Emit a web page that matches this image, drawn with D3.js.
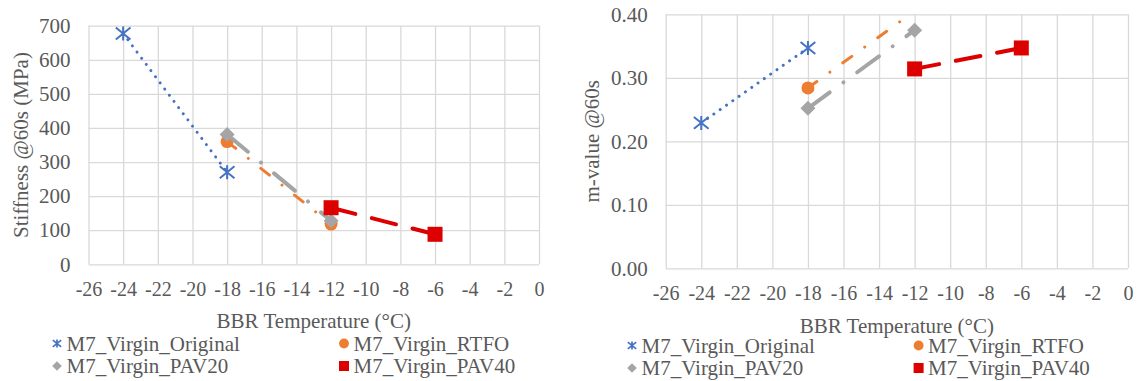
<!DOCTYPE html>
<html><head><meta charset="utf-8">
<script src="https://cdn.jsdelivr.net/npm/d3@7"></script>
<style>body{margin:0;background:#fff}</style>
</head><body>
<svg id="c" width="1140" height="381"></svg>
<script>
// ---- data ----
const seriesNames = ["M7_Virgin_Original", "M7_Virgin_RTFO", "M7_Virgin_PAV20", "M7_Virgin_PAV40"];
const tempOriginal = [-24, -18];
const tempRTFO = [-18, -12];
const tempPAV20 = [-18, -12];
const tempPAV40 = [-12, -6];
const stiffOriginal = [677, 270];
const stiffRTFO = [360, 118];
const stiffPAV20 = [381, 128];
const stiffPAV40 = [166, 88];
const mOriginal = [0.229, 0.347];
const mRTFO = [0.284, 0.405];
const mPAV20 = [0.252, 0.375];
const mPAV40 = [0.314, 0.347];
const xTickValues = [-26, -24, -22, -20, -18, -16, -14, -12, -10, -8, -6, -4, -2, 0];
const stiffTickValues = [0, 100, 200, 300, 400, 500, 600, 700];
const mTickValues = [0, 0.1, 0.2, 0.3, 0.4];
const xTitle = "BBR Temperature (\u00B0C)";
const stiffTitle = "Stiffness @60s (MPa)";
const mTitle = "m-value @60s";

const temps = [tempOriginal, tempRTFO, tempPAV20, tempPAV40];
const stiffVals = [stiffOriginal, stiffRTFO, stiffPAV20, stiffPAV40];
const mVals = [mOriginal, mRTFO, mPAV20, mPAV40];

// ---- styles ----
const FONT = "Liberation Serif";
const styles = [
  {color: "#4472C4", width: 3, dash: "0.01 7.7", marker: "star"},
  {color: "#ED7D31", width: 3, dash: "11 16 0.01 16", marker: "circle"},
  {color: "#A5A5A5", width: 4, dash: "27 17 0.01 17", marker: "diamond"},
  {color: "#DC0000", width: 4, dash: "25 17", marker: "square"}
];
const textColor = "#595959";
const gridColor = "#D9D9D9";

const svg = d3.select("#c");
svg.append("rect").attr("width", 1140).attr("height", 381).attr("fill", "#fff");

function marker(g, type, cx, cy, s, color) {
  if (type === "star") {
    const h = s, w = s * 1.05, dv = s * 0.85;
    g.append("path")
      .attr("d", `M${cx},${cy - h}V${cy + h}M${cx - w},${cy - dv}L${cx + w},${cy + dv}M${cx - w},${cy + dv}L${cx + w},${cy - dv}`)
      .attr("stroke", color).attr("stroke-width", s > 5 ? 2 : 1.7).attr("fill", "none");
  } else if (type === "circle") {
    g.append("circle").attr("cx", cx).attr("cy", cy).attr("r", s * 0.88).attr("fill", color);
  } else if (type === "diamond") {
    g.append("path").attr("d", `M${cx},${cy - s}L${cx + s},${cy}L${cx},${cy + s}L${cx - s},${cy}Z`).attr("fill", color);
  } else {
    g.append("rect").attr("x", cx - s).attr("y", cy - s).attr("width", 2 * s).attr("height", 2 * s).attr("fill", color);
  }
}

function chart(cfg) {
  const x = d3.scaleLinear().domain([-26, 0]).range([cfg.x0, cfg.x1]);
  const y = d3.scaleLinear().domain(cfg.ydomain).range([cfg.y0, cfg.y1]);
  const g = svg.append("g");
  const w = cfg.x1 - cfg.x0, h = cfg.y0 - cfg.y1;

  const ya = g.append("g").attr("transform", `translate(${cfg.x0},0)`)
    .call(d3.axisLeft(y).tickValues(cfg.yticks).tickSize(-w).tickPadding(18).tickFormat(cfg.yfmt));
  const xa = g.append("g").attr("transform", `translate(0,${cfg.y0})`)
    .call(d3.axisBottom(x).tickValues(xTickValues).tickSize(-h).tickPadding(17.5).tickFormat(d => String(d)));
  [ya, xa].forEach(a => {
    a.select(".domain").remove();
    a.selectAll("line").attr("stroke", gridColor).attr("stroke-width", 1.3);
    a.selectAll("text").attr("fill", textColor).style("font-family", FONT);
  });
  ya.selectAll("text").style("font-size", "21px");
  xa.selectAll("text").style("font-size", "20px");

  const clipId = "clip" + cfg.id;
  svg.append("clipPath").attr("id", clipId).append("rect")
    .attr("x", cfg.x0).attr("y", cfg.y1).attr("width", w).attr("height", h);

  const dataG = g.append("g");
  const line = d3.line().x(d => x(d[0])).y(d => y(d[1]));
  cfg.vals.forEach((vals, i) => {
    const pts = temps[i].map((t, j) => [t, vals[j]]);
    const st = styles[i];
    dataG.append("path").datum(pts).attr("d", line)
      .attr("clip-path", `url(#${clipId})`)
      .attr("fill", "none").attr("stroke", st.color).attr("stroke-width", st.width)
      .attr("stroke-dasharray", st.dash).attr("stroke-linecap", "round");
    pts.forEach(p => {
      if (p[1] <= cfg.ydomain[1] && p[1] >= cfg.ydomain[0]) {
        marker(dataG, st.marker, x(p[0]), y(p[1]), st.marker === "star" ? 7 : (st.marker === "circle" ? 7.4 : 7.5), st.color);
      }
    });
  });

  // axis titles
  g.append("text").attr("x", (cfg.x0 + cfg.x1) / 2).attr("y", cfg.xTitleY)
    .style("font-family", FONT).style("font-size", "21px")
    .attr("text-anchor", "middle").attr("fill", textColor).text(xTitle);
  g.append("text").attr("transform", `translate(${cfg.yTitleX},${(cfg.y0 + cfg.y1) / 2}) rotate(-90)`)
    .style("font-family", FONT).style("font-size", "21px")
    .attr("text-anchor", "middle").attr("fill", textColor).text(cfg.yTitle);

  // legend
  const cols = [cfg.legCol1, cfg.legCol2];
  seriesNames.forEach((name, i) => {
    const cx = cols[i % 2];
    const by = cfg.legRows[Math.floor(i / 2)];
    const st = styles[i];
    const ms = st.marker === "star" ? 4 : (st.marker === "square" ? 5 : (st.marker === "circle" ? 5.6 : 4.8));
    marker(g, st.marker, cx, by - 7, ms, st.color);
    g.append("text").attr("x", cx + 9.5).attr("y", by)
      .style("font-family", FONT).style("font-size", "21px")
      .attr("fill", textColor).text(name);
  });
}

chart({
  id: "L", x0: 88.5, x1: 539, y0: 264.3, y1: 25.7, ydomain: [0, 700],
  yticks: stiffTickValues, yfmt: d => String(d), vals: stiffVals,
  yTitle: stiffTitle, yTitleX: 27.5, xTitleY: 328.3,
  legCol1: 57, legCol2: 344, legRows: [350.5, 373]
});
chart({
  id: "R", x0: 665.7, x1: 1128, y0: 268.3, y1: 14.3, ydomain: [0, 0.4],
  yticks: mTickValues, yfmt: d3.format(".2f"), vals: mVals,
  yTitle: mTitle, yTitleX: 599, xTitleY: 332.7,
  legCol1: 632, legCol2: 918.6, legRows: [352.5, 375]
});
</script>
</body></html>
